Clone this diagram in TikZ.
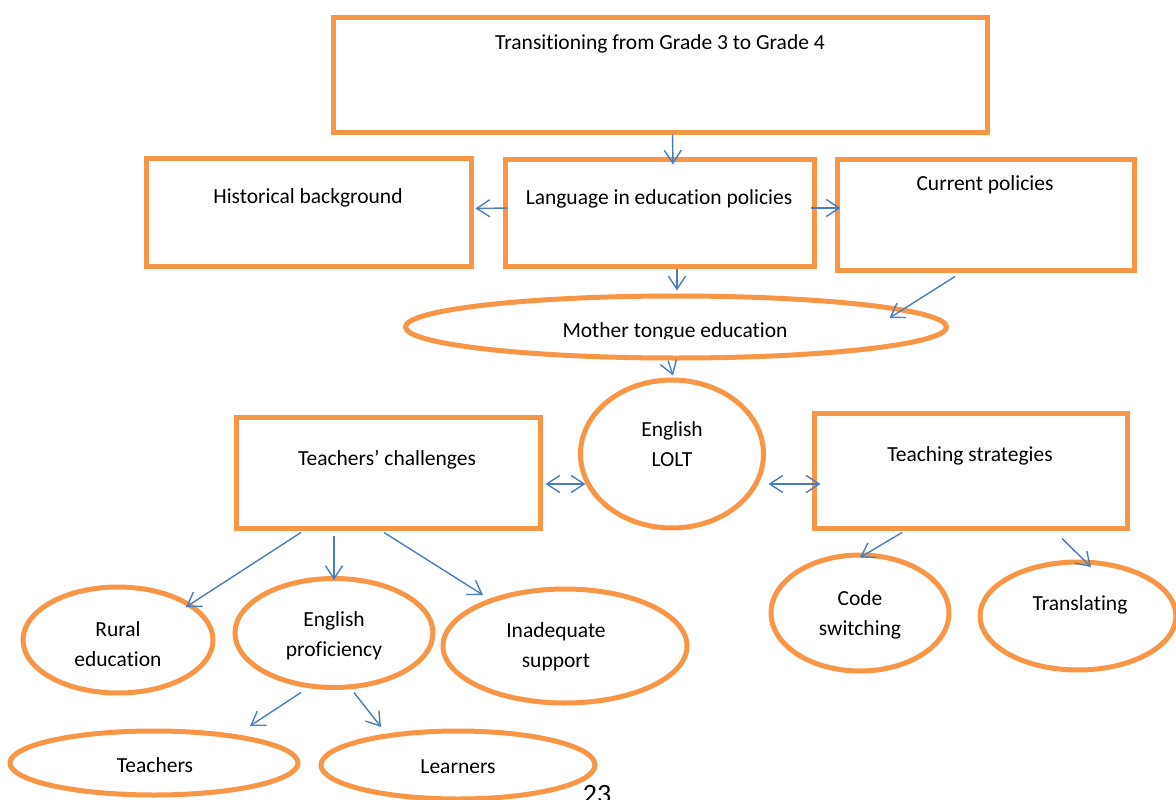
\documentclass[tikz,border=0pt]{standalone}
\usepackage{fontspec}
\setmainfont[Ligatures=NoCommon]{Carlito}
\usetikzlibrary{arrows.meta,shapes.geometric,fit}
\definecolor{bord}{HTML}{F79646}
\definecolor{arrc}{HTML}{4A7EBB}
\tikzset{
  box/.style={draw=bord,line width=5pt,inner sep=0pt,rectangle},
  ell/.style={draw=bord,line width=5pt,inner sep=0pt,ellipse},
  txt/.style={font=\fontsize{21.5}{30}\selectfont,align=center,inner sep=0pt},
  arr/.style={draw=arrc,line width=1.4pt,-{Straight Barb[length=13pt,width=17pt,line width=1.4pt]}},
  darr/.style={draw=arrc,line width=1.4pt,{Straight Barb[length=13pt,width=17pt,line width=1.4pt]}-{Straight Barb[length=13pt,width=17pt,line width=1.4pt]}}
}
\begin{document}
\begin{tikzpicture}[x=1pt,y=-1pt]
\clip (0,0) rectangle (1176,800);
\fill[white] (0,0) rectangle (1176,800);
% rectangles
\node[box,fit={(333,18)(987,132)}] (top) {};
\node[box,fit={(146,158)(471,266)}] (hist) {};
\node[box,fit={(505,159)(814,266)}] (lang) {};
\node[box,fit={(837,159)(1134,270)}] (curr) {};
\node[box,fit={(236,417)(540,528)}] (tc) {};
\node[box,fit={(814,413)(1127,528)}] (ts) {};
% ellipses
\node[ell,minimum width=541pt,minimum height=62pt] (mother) at (676,327) {};
\node[ell,minimum width=183pt,minimum height=148pt] (lolt) at (672,454) {};
\node[ell,minimum width=190pt,minimum height=106pt] (rural) at (118,640) {};
\node[ell,minimum width=198pt,minimum height=109pt] (prof) at (334,633) {};
\node[ell,minimum width=244pt,minimum height=114pt] (inad) at (565,646) {};
\node[ell,minimum width=288pt,minimum height=64pt] (teach) at (154,763) {};
\node[ell,minimum width=274pt,minimum height=68pt] (learn) at (458,765) {};
\node[ell,minimum width=178pt,minimum height=116pt] (code) at (860,613) {};
\node[ell,minimum width=196pt,minimum height=108pt] (trans) at (1078,616) {};
% texts
\node[txt] (top-t) at (660,44) {Transitioning from Grade 3 to Grade 4};
\node[txt] (hist-t) at (308,198) {Historical background};
\node[txt] (lang-t) at (659,199) {Language in education policies};
\node[txt] (curr-t) at (985,185) {Current policies};
\begin{scope}
\clip (380,300) rectangle (980,338.5);
\node[txt,anchor=base] (mother-t) at (675,337) {Mother tongue education};
\end{scope}
\node[txt] (lolt-t) at (672,444) {English\\LOLT};
\node[txt] (tc-t) at (387,460) {Teachers’ challenges};
\node[txt] (ts-t) at (970,456) {Teaching strategies};
\node[txt] (rural-t) at (118,644.5) {Rural\\education};
\node[txt] (prof-t) at (334,636) {English\\proficiency};
\node[txt] (inad-t) at (556,646.5) {Inadequate\\support};
\node[txt] (code-t) at (860,614.5) {Code\\switching};
\node[txt] (trans-t) at (1080,605) {Translating};
\node[txt] (teach-t) at (155,765) {Teachers};
\node[txt] (learn-t) at (458,767) {Learners};
\node[font=\fontsize{28}{30}\selectfont,anchor=base,inner sep=0pt] (page) at (597,803) {23};
% arrows
\draw[arr] ([xshift=12.5pt]top.south) -- ([xshift=13.5pt,yshift=-8pt]lang.north);
\draw[arr] ([xshift=5pt,yshift=4.5pt]lang.west) -- ([xshift=2pt,yshift=3.5pt]hist.east);
\draw[arr] ([xshift=-6pt,yshift=4.5pt]lang.east) -- ([xshift=6pt,yshift=6.5pt]curr.west);
\draw[arr] ([xshift=17.5pt]lang.south) -- ([xshift=1pt,yshift=3pt]mother.north);
\draw[arr] ([xshift=-30.5pt,yshift=-4pt]curr.south) -- ([xshift=-59.5pt,yshift=9pt]mother.east);
\draw[arr] ([xshift=-8pt]mother.south) -- ([xshift=1pt,yshift=2pt]lolt.north);
\draw[darr] ([xshift=3pt,yshift=-11.5pt]tc.east) -- ([xshift=7.5pt,yshift=-30pt]lolt.west);
\draw[darr] ([xshift=2.5pt,yshift=-30pt]lolt.east) -- ([xshift=9pt,yshift=-13.5pt]ts.west);
\draw[arr] ([xshift=-87pt,yshift=-2pt]tc.south) -- ([xshift=68pt,yshift=33pt]rural.center);
\draw[arr] ([xshift=-54pt,yshift=-5pt]tc.south) -- ([yshift=-4pt]prof.north);
\draw[arr] ([xshift=-4pt,yshift=-2pt]tc.south) -- ([xshift=-82pt,yshift=51pt]inad.center);
\draw[arr] ([xshift=-33pt,yshift=-2.5pt]prof.south) -- ([xshift=96pt,yshift=37pt]teach.center);
\draw[arr] ([xshift=20pt,yshift=-2.5pt]prof.south) -- ([xshift=-77pt,yshift=38pt]learn.center);
\draw[arr] ([xshift=-68.5pt,yshift=-2pt]ts.south) -- ([yshift=-5pt]code.north);
\draw[arr] ([xshift=91.5pt,yshift=-8pt]ts.south) -- ([xshift=13pt,yshift=49pt]trans.center);
\end{tikzpicture}
\end{document}
